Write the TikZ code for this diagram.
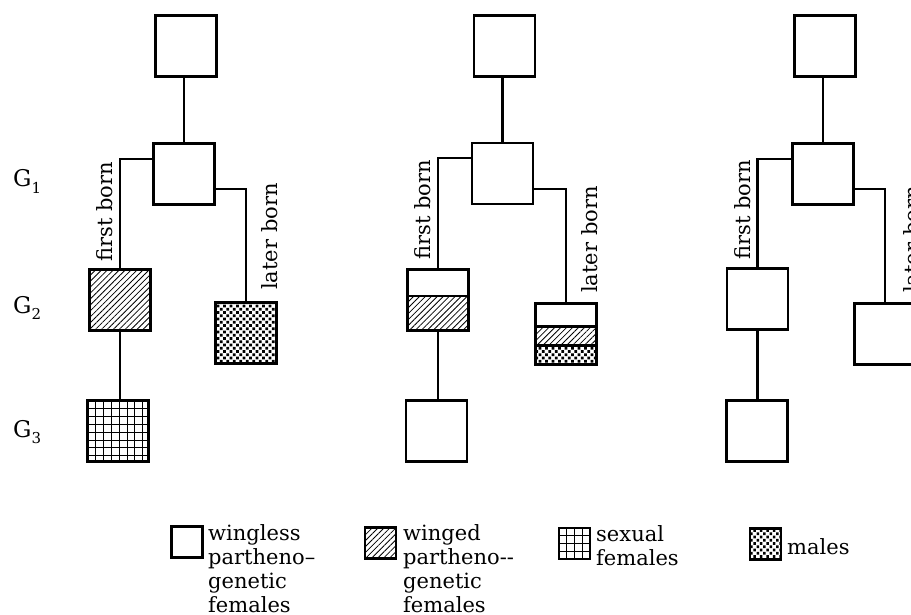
\documentclass[tikz,border=0pt]{standalone}
\usepackage{fontspec}
\setmainfont{DejaVu Serif}
\usetikzlibrary{patterns.meta,calc}
\tikzset{
  box/.style={draw, line width=2.9pt, minimum width=61pt, minimum height=61pt, inner sep=0pt, outer sep=0pt},
  boxline/.style={line width=2.9pt},
  lbox/.style={draw, line width=2.6pt, minimum width=31pt, minimum height=31pt, inner sep=0pt, outer sep=0pt},
  lboxline/.style={line width=2.6pt},
  conn/.style={line width=2.3pt},
  divline/.style={line width=2.3pt},
  hatch/.style={pattern={Lines[angle=45,distance=4.2pt,line width=0.8pt]}},
  dotsfill/.style={pattern={Dots[angle=45,distance=4.6pt,radius=1.9pt]}},
  gridl/.style={line width=1pt},
  txt/.style={font=\fontsize{21}{24}\selectfont, inner sep=0pt},
  rtxt/.style={txt, rotate=90, anchor=base west},
  glbl/.style={font=\fontsize{23}{24}\selectfont, inner sep=0pt, anchor=base west},
}
\newcommand{\gsub}[1]{G\raisebox{-6pt}{\fontsize{15}{15}\selectfont #1}}
\begin{document}
\begin{tikzpicture}[x=1pt,y=-1pt]
\useasboundingbox (0,0) rectangle (911,615);
\clip (0,0) rectangle (911,615);

% generation labels
\node[glbl] (g1) at (13,187) {\gsub{1}};
\node[glbl] (g2) at (13,313) {\gsub{2}};
\node[glbl] (g3) at (13,437) {\gsub{3}};

% ---------- column 1 ----------
\node[box] (a1) at (186,46) {};
\node[box] (b1) at (184,174) {};
\node[box, hatch] (c1) at (120,300) {};
\node[box, dotsfill] (d1) at (246,333) {};
\node[box] (e1) at (118,431) {};
\begin{scope}
  \clip (e1.north west) rectangle (e1.south east);
  \draw[gridl, step=7.9pt, shift={(e1.north west)}] (0,0) grid (70,70);
\end{scope}
\draw[boxline] (e1.north west) rectangle (e1.south east);
\draw[conn] (b1.north |- a1.south) -- (b1.north);
\draw[conn] ($(b1.north west)!0.25!(b1.south west)$) -| (c1.north);
\draw[conn] ($(b1.north east)!0.75!(b1.south east)$) -| (d1.north);
\draw[conn] (c1.south) -- (c1.south |- e1.north);
\node[rtxt] (fb1) at (112,262) {first born};
\node[rtxt] (lb1) at (277,290) {later born};

% ---------- column 2 ----------
\node[box] (a2) at (504.5,46) {};
\node[box] (b2) at (502.5,173.5) {};
\node[box] (c2) at (438,300) {};
\node[box] (d2) at (566,334) {};
\node[box] (e2) at (436.5,431) {};
\fill[hatch] ($(c2.north west)!0.44!(c2.south west)$) rectangle (c2.south east);
\draw[divline] ($(c2.north west)!0.44!(c2.south west)$) -- ($(c2.north east)!0.44!(c2.south east)$);
\draw[boxline] (c2.north west) rectangle (c2.south east);
\fill[hatch] ($(d2.north west)!0.375!(d2.south west)$) rectangle ($(d2.north east)!0.6875!(d2.south east)$);
\fill[dotsfill] ($(d2.north west)!0.6875!(d2.south west)$) rectangle (d2.south east);
\draw[divline] ($(d2.north west)!0.375!(d2.south west)$) -- ($(d2.north east)!0.375!(d2.south east)$);
\draw[divline] ($(d2.north west)!0.6875!(d2.south west)$) -- ($(d2.north east)!0.6875!(d2.south east)$);
\draw[boxline] (d2.north west) rectangle (d2.south east);
\draw[conn] (b2.north |- a2.south) -- (b2.north);
\draw[conn] ($(b2.north west)!0.25!(b2.south west)$) -| (c2.north);
\draw[conn] ($(b2.north east)!0.75!(b2.south east)$) -| (d2.north);
\draw[conn] (c2.south) -- (c2.south |- e2.north);
\node[rtxt] (fb2) at (430,260) {first born};
\node[rtxt] (lb2) at (597,293) {later born};

% ---------- column 3 ----------
\node[box] (a3) at (825,46) {};
\node[box] (b3) at (823,174) {};
\node[box] (c3) at (757.5,299) {};
\node[box] (d3) at (885,334) {};
\node[box] (e3) at (757,431) {};
\draw[conn] (b3.north |- a3.south) -- (b3.north);
\draw[conn] ($(b3.north west)!0.25!(b3.south west)$) -| (c3.north);
\draw[conn] ($(b3.north east)!0.75!(b3.south east)$) -| (d3.north);
\draw[conn] (c3.south) -- (c3.south |- e3.north);
\node[rtxt] (fb3) at (750,260) {first born};
\node[rtxt] (lb3) at (919,293) {later born};

% ---------- legend ----------
\node[lbox] (k1) at (187,542) {};
\node[txt, anchor=north west, align=left] (t1) at (208,524) {wingless\\partheno--\\genetic\\females};
\node[lbox, hatch] (k2) at (380.5,543) {};
\node[txt, anchor=north west, align=left] (t2) at (403,524) {winged\\partheno-{}-\\genetic\\females};
\node[lbox] (k3) at (574.5,543.5) {};
\begin{scope}
  \clip (k3.north west) rectangle (k3.south east);
  \draw[gridl, step=7.9pt, shift={(k3.north west)}] (0,0) grid (40,40);
\end{scope}
\draw[lboxline] (k3.north west) rectangle (k3.south east);
\node[txt, anchor=north west, align=left] (t3) at (596,525) {sexual\\females};
\node[lbox, dotsfill] (k4) at (765.5,544) {};
\node[txt, anchor=base west] (t4) at (787,554) {males};
\end{tikzpicture}
\end{document}
